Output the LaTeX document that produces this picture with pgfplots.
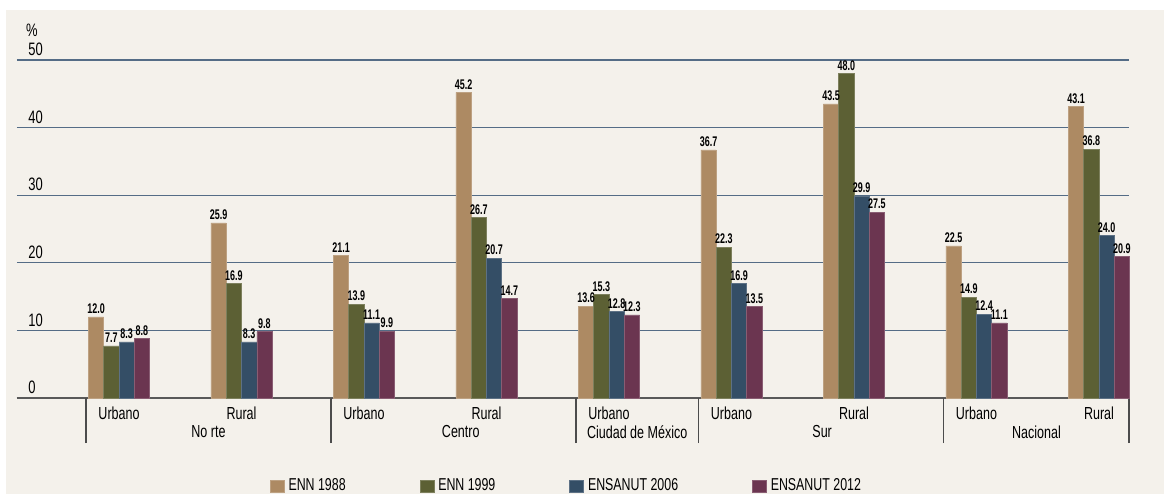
\documentclass[border=0pt]{standalone}
\usepackage{fontspec}
\setmainfont{Liberation Sans}[FakeStretch=0.72]
\newfontfamily\lblfont{Liberation Sans}[FakeStretch=0.64]
\usepackage{pgfplots}
\pgfplotsset{compat=1.18}
\definecolor{bg}{RGB}{244,241,235}
\definecolor{cA}{RGB}{173,138,99}
\definecolor{cB}{RGB}{92,96,52}
\definecolor{cC}{RGB}{52,78,102}
\definecolor{cD}{RGB}{107,53,80}
\definecolor{gridc}{RGB}{84,108,134}
\begin{document}
\begin{tikzpicture}
\fill[white] (0,0) rectangle (582pt,-247pt);
\fill[bg] (3pt,-5pt) rectangle (582pt,-247pt);
\node[font=\fontsize{9}{10}\selectfont] at (16pt,-15pt) {\%};
\begin{axis}[
  at={(8.5pt,-199pt)}, anchor=south west,
  scale only axis, width=556pt, height=169pt,
  xmin=-0.8327, xmax=8.245, ymin=0, ymax=50,
  ybar=0pt, bar width=7.65pt,
  axis x line*=bottom, axis y line*=left,
  y axis line style={draw=none},
  x axis line style={draw=black!65, line width=0.6pt},
  ymajorgrids, grid style={draw=gridc, line width=0.6pt},
  ytick={0,10,20,30,40,50}, yticklabels={0,10,20,30,40,50},
  major tick length=0pt,
  yticklabel style={anchor=south west, xshift=2.2pt, yshift=-1.5pt, font=\fontsize{9}{10}\selectfont},
  /pgf/number format/assume math mode=true,
  /pgf/number format/.cd, fixed, fixed zerofill, precision=1, /pgfplots/.cd,
  xtick={0,...,8},
  xticklabels={Urbano,Rural,Urbano,Rural,Urbano,Urbano,Rural,Urbano,Rural},
  xticklabel style={anchor=center, yshift=-7.5pt, font=\fontsize{8.7}{10}\selectfont},
  extra x ticks={-0.27,1.73,3.73,4.73,6.73,8.245},
  extra x tick labels={},
  extra x tick style={major tick length=22.5pt, tick align=outside, tick style={draw=black!70, line width=0.6pt}},
  nodes near coords,
  nodes near coords style={font=\lblfont\fontsize{7}{8}\selectfont\bfseries, inner sep=1.5pt},
  clip=false,
  legend columns=4,
  legend style={at={(0.495,-0.26)}, anchor=center, draw=none, fill=none,
    font=\fontsize{8.6}{10}\selectfont,
    /tikz/every even column/.append style={column sep=35pt}},
  legend image code/.code={\fill[#1] (0pt,-3pt) rectangle (7pt,3pt);},
]
\addplot[fill=cA, draw=cA!80!white, line width=0.3pt] coordinates {(0,12.0) (1,25.9) (2,21.1) (3,45.2) (4,13.6) (5,36.7) (6,43.5) (7,22.5) (8,43.1)};
\addplot[fill=cB, draw=cB!80!white, line width=0.3pt] coordinates {(0,7.7) (1,16.9) (2,13.9) (3,26.7) (4,15.3) (5,22.3) (6,48.0) (7,14.9) (8,36.8)};
\addplot[fill=cC, draw=cC!80!white, line width=0.3pt] coordinates {(0,8.3) (1,8.3) (2,11.1) (3,20.7) (4,12.8) (5,16.9) (6,29.9) (7,12.4) (8,24.0)};
\addplot[fill=cD, draw=cD!80!white, line width=0.3pt] coordinates {(0,8.8) (1,9.8) (2,9.9) (3,14.7) (4,12.3) (5,13.5) (6,27.5) (7,11.1) (8,20.9)};
\legend{ENN 1988, ENN 1999, ENSANUT 2006, ENSANUT 2012}
\path[font=\fontsize{8.7}{10}\selectfont]
  (axis cs:0.73,0) node[yshift=-17pt] {No rte}
  (axis cs:2.79,0) node[yshift=-17pt] {Centro}
  (axis cs:4.23,0) node[yshift=-17pt] {Ciudad de México}
  (axis cs:5.74,0) node[yshift=-17pt] {Sur}
  (axis cs:7.49,0) node[yshift=-17pt] {Nacional};
\end{axis}
\pgfresetboundingbox
\useasboundingbox (0,0) rectangle (582pt,-247pt);
\end{tikzpicture}
\end{document}
